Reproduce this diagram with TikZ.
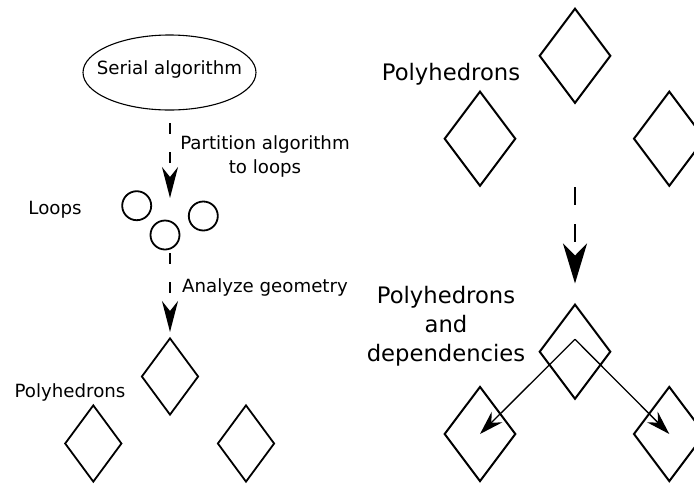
\documentclass[tikz,border=0pt]{standalone}
\usepackage{fontspec}
\setmainfont{DejaVu Sans}
\usetikzlibrary{shapes.geometric,arrows.meta}
\begin{document}
\begin{tikzpicture}[x=1pt,y=-1pt,
  smalltext/.style={font=\fontsize{18.2}{24}\selectfont, inner sep=0pt},
  bigtext/.style={font=\fontsize{22.7}{29}\selectfont, inner sep=0pt, align=center},
  loopnode/.style={circle, draw, line width=1.8pt, minimum size=29pt, inner sep=0pt},
  smalldia/.style={diamond, draw, line width=1.8pt, minimum width=57pt, minimum height=77pt, inner sep=0pt},
  bigdia/.style={diamond, draw, line width=2pt, minimum width=71.5pt, minimum height=95pt, inner sep=0pt},
  smallflow/.style={line width=2pt, dash pattern=on 11pt off 18pt, -{Stealth[length=31pt, width=16pt, inset=10pt]}},
  bigflow/.style={line width=2.4pt, dash pattern=on 18pt off 19pt, -{Stealth[length=40pt, width=24pt, inset=12pt]}},
  depend/.style={line width=1.3pt, -{Stealth[length=24pt, width=15pt, inset=8pt]}}
]
\useasboundingbox (0,0) rectangle (694,483);
% left column
\node[smalltext] (serial) at (169.5,69) {Serial algorithm};
\draw[line width=1.1pt] (169.5,72.5) ellipse [x radius=86.5pt, y radius=37.5pt];
\node[loopnode] (l1) at (136.7,205.7) {};
\node[loopnode] (l2) at (165,235) {};
\node[loopnode] (l3) at (203.3,216) {};
\node[smalltext] (looplabel) at (55,210) {Loops};
\coordinate (a1s) at (170,123);
\coordinate (a1e) at (170,198);
\draw[smallflow] (a1s) -- (a1e);
\node[smalltext, align=center] (partlabel) at (265,156) {Partition algorithm\\to loops};
\coordinate (a2s) at (170,253);
\coordinate (a2e) at (170,332);
\draw[smallflow] (a2s) -- (a2e);
\node[smalltext] (geomlabel) at (265,287) {Analyze geometry};
\node[smalldia] (p1) at (170,376.5) {};
\node[smalldia] (p2) at (93.3,443.5) {};
\node[smalldia] (p3) at (246,443.5) {};
\node[smalltext] (polylabel) at (70,392) {Polyhedrons};
% right column
\node[bigdia] (q1) at (575,55.8) {};
\node[bigdia] (q2) at (480,138.7) {};
\node[bigdia] (q3) at (669.3,138.7) {};
\node[bigtext] (qlabel) at (451,74) {Polyhedrons};
\coordinate (b1s) at (575,187);
\coordinate (b1e) at (575,283.5);
\draw[bigflow] (b1s) -- (b1e);
\node[bigdia] (r1) at (575,351.7) {};
\node[bigdia] (r2) at (480,434) {};
\node[bigdia] (r3) at (669.3,434) {};
\node[bigtext] (rlabel) at (446,326) {Polyhedrons\\and\\dependencies};
\coordinate (apex) at (575,339.3);
\draw[depend] (apex) -- (r2.center);
\draw[depend] (apex) -- (r3.center);
\end{tikzpicture}
\end{document}
